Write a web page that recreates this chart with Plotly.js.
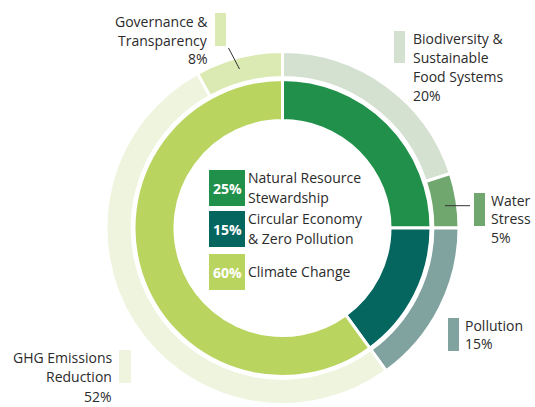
<!DOCTYPE html>
<html>
<head>
<meta charset="utf-8">
<script src="https://cdn.plot.ly/plotly-3.0.1.min.js"></script>
<style>html,body{margin:0;padding:0;background:#fff;}#chart{width:535px;height:407px;}</style>
</head>
<body>
<div id="chart"></div>
<script>
// ---- data ----
var innerLabels = ["Natural Resource Stewardship", "Circular Economy & Zero Pollution", "Climate Change"];
var innerValues = [25, 15, 60];
var innerColors = ["#20904a", "#05665f", "#b9d45f"];

var outerLabels = ["Biodiversity & Sustainable Food Systems", "Water Stress", "Pollution", "GHG Emissions Reduction", "Governance & Transparency"];
var outerValues = [20, 5, 15, 52, 8];
var outerColors = ["#d4e0d0", "#6fa76f", "#80a3a0", "#eef4dd", "#dbe9b3"];

var innerLegendLines = [["Natural Resource", "Stewardship"], ["Circular Economy", "& Zero Pollution"], ["Climate Change"]];
var outerLabelLines = [["Biodiversity &", "Sustainable", "Food Systems"], ["Water", "Stress"], ["Pollution"], ["GHG Emissions", "Reduction"], ["Governance &", "Transparency"]];

// ---- layout helpers ----
var W = 535, H = 407;
function px(x) { return x / W; }
function py(y) { return 1 - y / H; }
var FONT = "'Open Sans', 'Noto Sans', sans-serif";
var TXT = "#2b2b2b";

var cx = 282.5, cy = 228;
var rOuter = 176.5, rInner = 148.5;

var traces = [
  {
    type: "pie", values: outerValues, labels: outerLabels, sort: false, direction: "clockwise", rotation: 0,
    hole: 0.852, textinfo: "none", hoverinfo: "none",
    marker: { colors: outerColors, line: { color: "#ffffff", width: 3 } },
    domain: { x: [px(cx - rOuter), px(cx + rOuter)], y: [py(cy + rOuter), py(cy - rOuter)] }
  },
  {
    type: "pie", values: innerValues, labels: innerLabels, sort: false, direction: "clockwise", rotation: 0,
    hole: 0.724, textinfo: "none", hoverinfo: "none",
    marker: { colors: innerColors, line: { color: "#ffffff", width: 3 } },
    domain: { x: [px(cx - rInner), px(cx + rInner)], y: [py(cy + rInner), py(cy - rInner)] }
  }
];

var annotations = [];
var shapes = [];
function addText(txt, x, y, anchor, size, color, bold) {
  annotations.push({
    text: bold ? "<b>" + txt + "</b>" : txt, x: px(x), y: py(y), xref: "paper", yref: "paper",
    xanchor: anchor, yanchor: "middle", showarrow: false, borderpad: 0,
    font: { family: FONT, size: size, color: color }
  });
}
function addRect(x0, y0, x1, y1, color) {
  shapes.push({ type: "rect", xref: "paper", yref: "paper", x0: px(x0), x1: px(x1), y0: py(y1), y1: py(y0),
    fillcolor: color, line: { width: 0 }, layer: "above" });
}
function addLine(x0, y0, x1, y1) {
  shapes.push({ type: "line", xref: "paper", yref: "paper", x0: px(x0), x1: px(x1), y0: py(y0), y1: py(y1),
    line: { color: "#333333", width: 1 }, layer: "above" });
}

// centre legend
var boxTops = [170, 211, 254];
var rowLineY = [[177.5, 197.5], [218.5, 238.5], [271.5]];
for (var i = 0; i < innerValues.length; i++) {
  addRect(209, boxTops[i], 245, boxTops[i] + 36, innerColors[i]);
  addText(innerValues[i] + "%", 227, boxTops[i] + 18.5, "center", 14, "#ffffff", true);
  for (var j = 0; j < innerLegendLines[i].length; j++) {
    addText(innerLegendLines[i][j], 247, rowLineY[i][j], "left", 14, TXT, false);
  }
}

// outer labels
var outerPos = [
  { rect: [394, 31, 405, 63], tx: 412, anchor: "left", y0: 38, step: 19 },
  { rect: [474, 193, 485, 226], tx: 490, anchor: "left", y0: 200.5, step: 18.5 },
  { rect: [448, 318, 459, 351], tx: 464, anchor: "left", y0: 325, step: 18.5 },
  { rect: [119, 350, 131, 383], tx: 113, anchor: "right", y0: 357, step: 19.5 },
  { rect: [215, 13, 226, 46], tx: 209, anchor: "right", y0: 21.5, step: 18.5 }
];
for (var k = 0; k < outerValues.length; k++) {
  var p = outerPos[k];
  addRect(p.rect[0], p.rect[1], p.rect[2], p.rect[3], outerColors[k]);
  var lines = outerLabelLines[k].concat([outerValues[k] + "%"]);
  for (var m = 0; m < lines.length; m++) {
    addText(lines[m], p.tx, p.y0 + m * p.step, p.anchor, 14, TXT, false);
  }
}
// leader lines
addLine(228.5, 48, 239.5, 69);
addLine(445, 205.7, 470, 205.7);

var layout = {
  width: W, height: H, margin: { l: 0, r: 0, t: 0, b: 0 },
  paper_bgcolor: "#ffffff", showlegend: false,
  annotations: annotations, shapes: shapes
};
Plotly.newPlot("chart", traces, layout, { displayModeBar: false, staticPlot: true });
</script>
</body>
</html>
